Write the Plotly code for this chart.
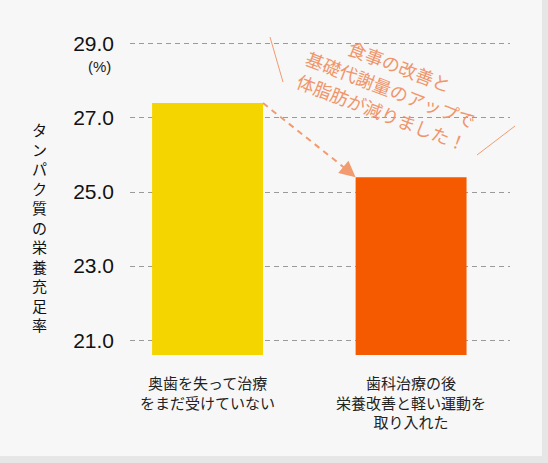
import math
import plotly.graph_objects as go

# data
categories = ['奥歯を失って治療<br>をまだ受けていない', '歯科治療の後<br>栄養改善と軽い運動を<br>取り入れた']
values = [27.4, 25.4]
bar_colors = ['#f4d500', '#f55a00']
tick_vals = [21.0, 23.0, 25.0, 27.0, 29.0]
tick_text = ['21.0', '23.0', '25.0', '27.0', '29.0']
y_title = 'タンパク質の栄養充足率'
note_lines = ['食事の改善と', '基礎代謝量のアップで', '体脂肪が減りました！']

jp = 'Noto Sans CJK JP'
accent = '#f29a70'
bar_w = 0.545
W, H = 548, 463
L, R, T, B = 130, 38, 29, 108
pw, ph = W - L - R, H - T - B


def px(x, y):
    # pixel position on the page -> paper coords
    return (x - L) / pw, (H - B - y) / ph


fig = go.Figure([
    go.Bar(x=[0, 1], y=values, width=bar_w, marker_color=bar_colors,
           marker_line_width=0, hoverinfo='skip')
])

# background card with darker edge on right/bottom
x0, y0 = px(0, -20)
x1, y1 = px(542, 456)
fig.add_shape(type='rect', xref='paper', yref='paper',
              x0=x0, x1=x1, y0=y1, y1=y0,
              fillcolor='#f7f7f7', line_width=0, layer='below')

# dashed arrow between the bar tops
x_start = 0 + bar_w / 2
x_tip = 1 - bar_w / 2
y_start, y_tip = values
fig.add_shape(type='line', xref='x', yref='y',
              x0=x_start, y0=y_start,
              x1=x_tip - 0.045, y1=y_tip + 0.21,
              line=dict(color=accent, width=2, dash='6px,5px'))
fig.add_annotation(x=x_tip, y=y_tip, xref='x', yref='y',
                   ax=-12, ay=-10, text='', showarrow=True,
                   arrowhead=2, arrowsize=1.6, arrowwidth=2, arrowcolor=accent)

# rotated note, one annotation per line so the line gap can be set
ang = 21
cx, cy = 391, 89
gap = 25
for i, line in enumerate(note_lines):
    off = (i - 1) * gap
    lx = cx - math.sin(math.radians(ang)) * off
    ly = cy + math.cos(math.radians(ang)) * off
    ax_, ay_ = px(lx, ly)
    fig.add_annotation(x=ax_, y=ay_, xref='paper', yref='paper',
                       text=line, showarrow=False, textangle=ang,
                       xanchor='center', yanchor='middle',
                       font=dict(family=jp, size=18, color='#f0956a'))

for (a, b), (c, d) in [((270, 37), (283, 82)), ((477, 155), (515, 126))]:
    sx0, sy0 = px(a, b)
    sx1, sy1 = px(c, d)
    fig.add_shape(type='line', xref='paper', yref='paper',
                  x0=sx0, y0=sy0, x1=sx1, y1=sy1,
                  line=dict(color=accent, width=1))

# (%) unit under the top tick
ux, uy = px(113, 66)
fig.add_annotation(x=ux, y=uy, xref='paper', yref='paper',
                   text='(%)', showarrow=False, xanchor='right', yanchor='middle',
                   font=dict(family='Liberation Sans', size=15, color='#222'))

# vertical y title, one character per line
tx, ty = px(39, 227)
fig.add_annotation(x=tx, y=ty, xref='paper', yref='paper',
                   text='<br>'.join(y_title), showarrow=False,
                   xanchor='center', yanchor='middle', align='center',
                   font=dict(family=jp, size=15, color='#111'))

fig.update_layout(
    width=W, height=H,
    margin=dict(l=L, r=R, t=T, b=B),
    paper_bgcolor='#e6e6e6', plot_bgcolor='rgba(0,0,0,0)',
    showlegend=False,
    xaxis=dict(range=[-0.381, 1.486], tickvals=[0, 1], ticktext=categories,
               showgrid=False, zeroline=False, showline=False,
               ticks='', ticklabelstandoff=18,
               tickfont=dict(family=jp, size=15, color='#222')),
    yaxis=dict(range=[20.6, 29.4], tickvals=tick_vals, ticktext=tick_text,
               showgrid=True, gridcolor='#9a9a9a', gridwidth=1, griddash='5px,4px',
               zeroline=False, showline=False, ticks='', ticklabelstandoff=15,
               tickfont=dict(family='Liberation Sans', size=21, color='#111')),
)

fig.write_html('out.html', config={'displayModeBar': False},
               post_script="document.body.style.margin='0';document.body.style.overflow='hidden';")
